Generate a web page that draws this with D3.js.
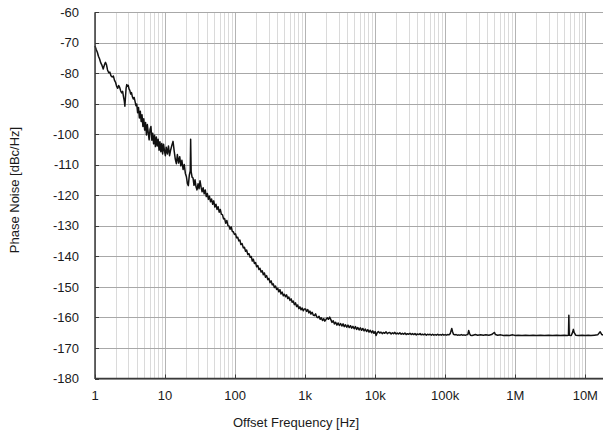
<!DOCTYPE html>
<html>
<head>
<meta charset="utf-8">
<script src="https://cdn.jsdelivr.net/npm/d3@7"></script>
<style>
  html, body { margin: 0; padding: 0; background: #fff; }
  svg { display: block; font-family: "Liberation Sans", Arial, sans-serif; }
</style>
</head>
<body>
<svg id="chart" width="603" height="434"></svg>
<script>
// Measured trace: [offset frequency (Hz), phase noise (dBc/Hz)]
const phaseNoise = [
  [1.00, -71.0], [1.04, -72.2], [1.08, -73.1], [1.12, -74.4], [1.16, -75.2], [1.21, -76.6], [1.26, -77.4],
  [1.31, -78.6], [1.36, -77.3], [1.41, -76.4], [1.46, -77.2], [1.51, -78.9], [1.57, -79.8], [1.63, -79.6],
  [1.69, -80.8], [1.76, -81.2], [1.83, -80.9], [1.90, -82.3], [1.97, -83.0], [2.04, -84.3], [2.11, -84.9],
  [2.18, -84.0], [2.25, -84.6], [2.33, -85.8], [2.41, -86.4], [2.48, -85.9], [2.55, -87.6], [2.62, -89.0],
  [2.67, -90.8], [2.72, -88.0], [2.78, -84.9], [2.84, -83.7], [2.91, -84.2], [2.98, -83.9], [3.06, -85.1],
  [3.14, -85.6], [3.23, -86.8], [3.32, -86.3], [3.42, -87.7], [3.52, -88.4], [3.62, -87.9], [3.73, -89.2],
  [3.84, -90.6], [3.95, -90.1], [4.06, -92.9], [4.18, -91.2], [4.30, -94.6], [4.43, -92.4], [4.56, -95.8],
  [4.69, -93.6], [4.83, -97.4], [4.97, -94.9], [5.12, -98.6], [5.27, -96.1], [5.43, -100.2], [5.59, -96.8],
  [5.76, -99.5], [5.93, -101.8], [6.11, -98.3], [6.29, -97.4], [6.48, -101.9], [6.67, -99.6], [6.87, -103.1],
  [7.08, -100.3], [7.29, -104.0], [7.51, -100.9], [7.74, -103.8], [7.97, -101.6], [8.21, -105.2], [8.46, -102.4],
  [8.71, -105.7], [8.97, -103.0], [9.24, -106.4], [9.52, -103.2], [9.81, -105.3], [10.1, -107.0],
  [10.4, -104.2], [10.8, -106.4], [11.2, -103.8], [11.6, -107.0], [12.0, -105.2], [12.5, -103.6], [13.0, -102.3],
  [13.5, -105.4], [14.0, -108.1], [14.5, -109.6], [15.0, -106.6], [15.6, -109.4], [16.2, -107.3], [16.8, -110.3],
  [17.4, -108.5], [18.1, -111.5], [18.8, -109.9], [19.5, -112.8], [20.2, -113.9], [20.9, -116.2], [21.5, -116.8],
  [22.2, -113.4], [22.9, -112.0], [23.2, -101.6], [23.6, -112.2], [24.3, -114.0], [25.1, -114.3], [25.9, -116.7],
  [26.8, -114.9], [27.7, -117.2], [28.6, -118.2], [29.6, -116.2], [30.6, -117.8], [31.6, -115.2], [32.7, -117.3],
  [33.8, -118.8], [35.0, -117.5], [36.2, -119.5], [37.5, -118.2], [38.8, -120.4], [40.2, -119.4], [41.6, -121.3],
  [43.1, -120.3], [44.6, -122.1], [46.2, -121.2], [47.9, -122.9], [49.6, -121.8], [51.4, -123.8], [53.3, -122.9],
  [55.2, -124.6], [57.2, -123.7], [59.3, -125.5], [61.5, -124.6], [63.7, -126.2], [66.0, -126.3], [68.4, -127.7],
  [70.9, -127.6], [73.5, -129.1], [76.2, -128.2], [79.0, -129.9], [81.9, -130.0], [84.9, -131.1], [88.0, -130.3],
  [91.2, -131.8], [94.5, -131.9], [98.0, -132.8],
  [101.6, -132.6], [105, -133.9], [109, -133.7], [113, -134.9], [117, -134.6], [121, -136.1], [126, -135.8],
  [131, -137.2], [136, -137.0], [141, -138.3], [146, -137.9], [152, -139.4], [158, -139.1], [164, -140.3],
  [170, -140.0], [176, -141.5], [182, -140.9], [189, -142.3], [196, -142.0], [203, -143.4], [211, -143.0],
  [219, -144.3], [227, -143.9], [235, -145.1], [244, -144.7], [253, -146.0], [262, -145.4], [272, -146.8],
  [282, -146.3], [293, -147.6], [304, -147.2], [315, -148.6], [327, -148.0], [339, -149.3], [351, -149.0],
  [364, -150.2], [378, -149.7], [392, -150.8], [406, -150.4], [421, -151.6], [437, -150.9], [453, -152.3],
  [470, -151.7], [488, -152.9], [506, -152.4], [525, -153.2], [544, -152.6], [564, -153.8], [585, -153.3],
  [607, -154.4], [630, -153.9], [653, -155.0], [677, -154.6], [702, -155.8], [728, -155.2], [755, -156.4],
  [783, -155.9], [812, -157.1], [842, -156.5], [873, -157.5], [906, -156.9], [940, -157.8], [975, -157.2],
  [1010, -157.2], [1050, -158.0], [1090, -157.4], [1130, -158.5], [1170, -157.9], [1210, -158.9], [1260, -158.3],
  [1310, -159.3], [1360, -159.4], [1410, -158.8], [1460, -159.8], [1520, -160.1], [1580, -159.6], [1640, -160.6],
  [1700, -160.1], [1770, -161.0], [1840, -160.4], [1910, -161.2], [1990, -160.6], [2070, -160.1], [2150, -160.6],
  [2240, -159.9], [2330, -160.7], [2420, -161.6], [2520, -161.1], [2620, -162.1], [2730, -161.6], [2840, -162.5],
  [2960, -161.8], [3080, -162.6], [3210, -162.0], [3340, -162.8], [3480, -162.1], [3620, -163.0], [3770, -162.4],
  [3930, -163.2], [4090, -162.5], [4260, -163.3], [4440, -162.7], [4620, -163.5], [4810, -162.9], [5010, -163.7],
  [5220, -163.0], [5440, -163.9], [5660, -163.3], [5900, -164.1], [6140, -163.4], [6400, -164.2], [6660, -163.6],
  [6940, -164.4], [7230, -163.8], [7530, -164.6], [7840, -164.0], [8170, -164.8], [8510, -164.2], [8860, -165.0],
  [9230, -164.4], [9610, -165.2], [10000, -164.6], [10300, -165.9], [10700, -165.0], [11100, -164.6],
  [11600, -165.1], [12100, -164.8], [12600, -165.3], [13100, -164.9], [13700, -165.2], [14300, -164.7],
  [14900, -165.3], [15500, -165.0], [16200, -164.9], [16900, -165.4], [17600, -165.0], [18300, -165.3],
  [19100, -164.9], [19900, -165.4], [20700, -165.1], [21600, -165.4], [22500, -165.0], [23500, -165.5],
  [24500, -165.2], [25500, -165.5], [26600, -165.1], [27700, -165.6], [28900, -165.3], [30100, -165.5],
  [31400, -165.2], [32700, -165.6], [34100, -165.3], [35500, -165.6], [37000, -165.3], [38600, -165.7],
  [40200, -165.4], [41900, -165.6], [43700, -165.3], [45500, -165.7], [47400, -165.5], [49400, -165.7],
  [51500, -165.4], [53700, -165.8], [56000, -165.5], [58300, -165.7], [60800, -165.5], [63400, -165.8],
  [66000, -165.5], [68800, -165.8], [71700, -165.6], [74800, -165.8], [77900, -165.5], [81200, -165.8],
  [84600, -165.6], [88200, -165.8], [91900, -165.5], [95800, -165.8], [99800, -165.6],
  [104000, -165.8], [108000, -165.6], [113000, -165.7], [118000, -165.3], [121000, -164.4], [124000, -163.6],
  [127000, -164.6], [131000, -165.5], [137000, -165.7], [143000, -165.6], [149000, -165.8], [156000, -165.7],
  [163000, -165.8], [170000, -165.6], [177000, -165.8], [185000, -165.7], [193000, -165.8], [201000, -165.7],
  [210000, -165.6], [216000, -164.3], [222000, -165.2], [229000, -165.8], [240000, -165.9], [250000, -165.8],
  [270000, -165.6], [290000, -165.8], [320000, -165.7], [350000, -165.8], [380000, -165.7], [420000, -165.8],
  [460000, -165.6], [490000, -165.1], [505000, -164.9], [520000, -165.6], [560000, -165.8], [620000, -165.7],
  [680000, -165.9], [750000, -165.8], [830000, -165.9], [920000, -165.7],
  [1.0e6, -165.9], [1.1e6, -165.8], [1.25e6, -165.9], [1.4e6, -165.8], [1.6e6, -165.9], [1.8e6, -165.8],
  [2.0e6, -165.9], [2.3e6, -165.8], [2.6e6, -165.9], [3.0e6, -165.8], [3.4e6, -165.9], [3.9e6, -165.8],
  [4.4e6, -165.9], [5.0e6, -165.8], [5.5e6, -165.9], [5.75e6, -165.8], [5.82e6, -159.3], [5.9e6, -165.8],
  [6.3e6, -165.9], [6.6e6, -164.8], [6.75e6, -163.9], [6.95e6, -165.0], [7.3e6, -165.8], [8.0e6, -165.9],
  [9.0e6, -165.8], [1.0e7, -165.9], [1.1e7, -165.8], [1.2e7, -165.9], [1.35e7, -165.8], [1.5e7, -165.7],
  [1.63e7, -164.7], [1.72e7, -165.6], [1.85e7, -165.8], [2.0e7, -165.9]
];

// Axis ticks and their labels
const yTicks = [-60, -70, -80, -90, -100, -110, -120, -130, -140, -150, -160, -170, -180];
const xTicks = [1, 10, 100, 1e3, 1e4, 1e5, 1e6, 1e7];
const xTickLabels = ["1", "10", "100", "1k", "10k", "100k", "1M", "10M"];

const svg = d3.select("#chart");

const x = d3.scaleLog().domain([1, 2e7]).range([95, 606.4]);
const y = d3.scaleLinear().domain([-180, -60]).range([378.5, 12.3]);

const [x0, x1] = x.range();
const [yBottom, yTop] = y.range();
const px = v => Math.round(v) + 0.5;

// Minor vertical grid (2..9 within each decade)
const minor = x.ticks().filter(v => !xTicks.includes(v));
svg.append("g")
  .selectAll("line").data(minor).join("line")
  .attr("x1", d => px(x(d))).attr("x2", d => px(x(d)))
  .attr("y1", yTop).attr("y2", yBottom)
  .attr("stroke", "#dadada").attr("stroke-width", 1);

// Decade vertical grid
svg.append("g")
  .selectAll("line").data(xTicks).join("line")
  .attr("x1", d => px(x(d))).attr("x2", d => px(x(d)))
  .attr("y1", yTop).attr("y2", yBottom)
  .attr("stroke", "#b4b4b4").attr("stroke-width", 1);

// Horizontal grid
svg.append("g")
  .selectAll("line").data(yTicks).join("line")
  .attr("x1", x0).attr("x2", x1)
  .attr("y1", d => px(y(d))).attr("y2", d => px(y(d)))
  .attr("stroke", "#a8a8a8").attr("stroke-width", 1);

// Phase noise trace
svg.append("path")
  .datum(phaseNoise)
  .attr("fill", "none")
  .attr("stroke", "#111")
  .attr("stroke-width", 1.5)
  .attr("stroke-linejoin", "round")
  .attr("d", d3.line().x(d => x(d[0])).y(d => y(d[1])));

// Axis lines
svg.append("line")
  .attr("x1", x0).attr("x2", x0).attr("y1", yTop).attr("y2", yBottom + 0.5)
  .attr("stroke", "#3a3a3a").attr("stroke-width", 1.5);
svg.append("line")
  .attr("x1", x0).attr("x2", x1).attr("y1", yBottom).attr("y2", yBottom)
  .attr("stroke", "#3a3a3a").attr("stroke-width", 1.5);

// Inward tick marks
svg.append("g").selectAll("line").data(yTicks).join("line")
  .attr("x1", x0).attr("x2", x0 + 4)
  .attr("y1", d => px(y(d))).attr("y2", d => px(y(d)))
  .attr("stroke", "#3a3a3a").attr("stroke-width", 1);
svg.append("g").selectAll("line").data(xTicks).join("line")
  .attr("x1", d => px(x(d))).attr("x2", d => px(x(d)))
  .attr("y1", yBottom).attr("y2", yBottom - 4)
  .attr("stroke", "#3a3a3a").attr("stroke-width", 1);

// Tick labels
svg.append("g").selectAll("text").data(yTicks).join("text")
  .attr("x", 79).attr("y", d => y(d))
  .attr("dy", "0.35em")
  .attr("text-anchor", "end")
  .attr("font-size", 13).attr("fill", "#1a1a1a")
  .text(d => d);
svg.append("g").selectAll("text").data(xTicks).join("text")
  .attr("x", d => x(d)).attr("y", 400)
  .attr("text-anchor", "middle")
  .attr("font-size", 13).attr("fill", "#1a1a1a")
  .text((d, i) => xTickLabels[i]);

// Axis titles
svg.append("text")
  .attr("x", 233).attr("y", 427)
  .attr("text-anchor", "start")
  .attr("font-size", 13).attr("fill", "#1a1a1a")
  .text("Offset Frequency [Hz]");
svg.append("text")
  .attr("transform", "translate(19,190) rotate(-90)")
  .attr("text-anchor", "middle")
  .attr("font-size", 13).attr("fill", "#1a1a1a")
  .text("Phase Noise [dBc/Hz]");
</script>
</body>
</html>
